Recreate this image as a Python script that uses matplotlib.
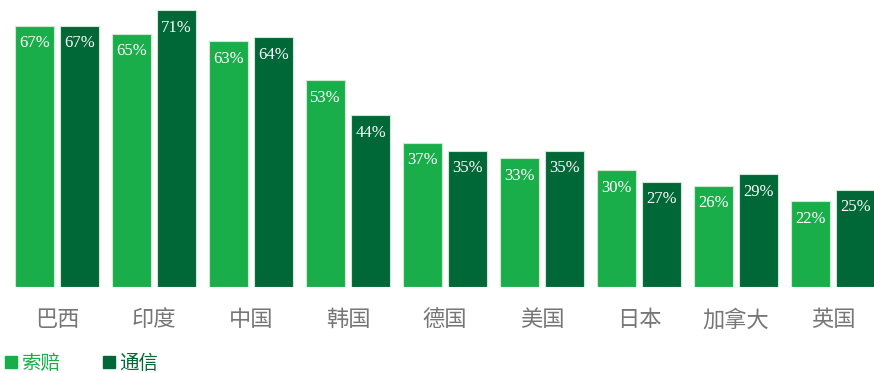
import matplotlib
matplotlib.use("Agg")
import matplotlib.pyplot as plt
from matplotlib.lines import Line2D
import numpy as np

countries = ["巴西", "印度", "中国", "韩国", "德国", "美国", "日本", "加拿大", "英国"]
series_names = ["索赔", "通信"]
claims = [67, 65, 63, 53, 37, 33, 30, 26, 22]
comms = [67, 71, 64, 44, 35, 35, 27, 29, 25]

light = "#1aae4a"
dark = "#006736"
edge = "#cfe8d4"

W, H = 874, 373
fig = plt.figure(figsize=(W / 100, H / 100), dpi=100)
ax = fig.add_axes([0, (H - 287) / H, 1, 287 / H])

pitch = 97.0
x0 = 57
x = np.arange(len(countries))
bw = 38.8 / pitch
off = 22.5 / pitch

b1 = ax.bar(x - off, claims, bw, color=light, edgecolor=edge, linewidth=0.8)
b2 = ax.bar(x + off, comms, bw, color=dark, edgecolor=edge, linewidth=0.8)

for bars, vals in ((b1, claims), (b2, comms)):
    for rect, v in zip(bars, vals):
        ax.annotate(f"{v}%", (rect.get_x() + rect.get_width() / 2, v),
                    xytext=(0, -7), textcoords="offset points",
                    ha="center", va="top", color="white",
                    fontsize=12, family="Liberation Serif")

ax.set_xlim(-x0 / pitch, (W - x0) / pitch)
ax.set_ylim(0, 287 / 3.9)
ax.axis("off")

for i, name in enumerate(countries):
    ax.text(i, -8.4, name, ha="center", va="center", fontsize=16,
            color="#767676", family=["Noto Sans CJK SC", "DejaVu Sans"],
            clip_on=False)

handles = [Line2D([], [], marker="s", linestyle="none", markersize=8.8,
                  markerfacecolor=c, markeredgecolor=c) for c in (light, dark)]
fig.legend(handles, series_names, loc="center left",
           bbox_to_anchor=(3.2 / W, 10 / H), borderpad=0, borderaxespad=0,
           ncol=2, frameon=False, handlelength=0.8, handletextpad=0.15,
           columnspacing=2.06, labelcolor=[light, dark],
           prop={"family": ["Noto Sans CJK SC", "DejaVu Sans"], "size": 14})

fig.savefig("out.png", dpi=100)
